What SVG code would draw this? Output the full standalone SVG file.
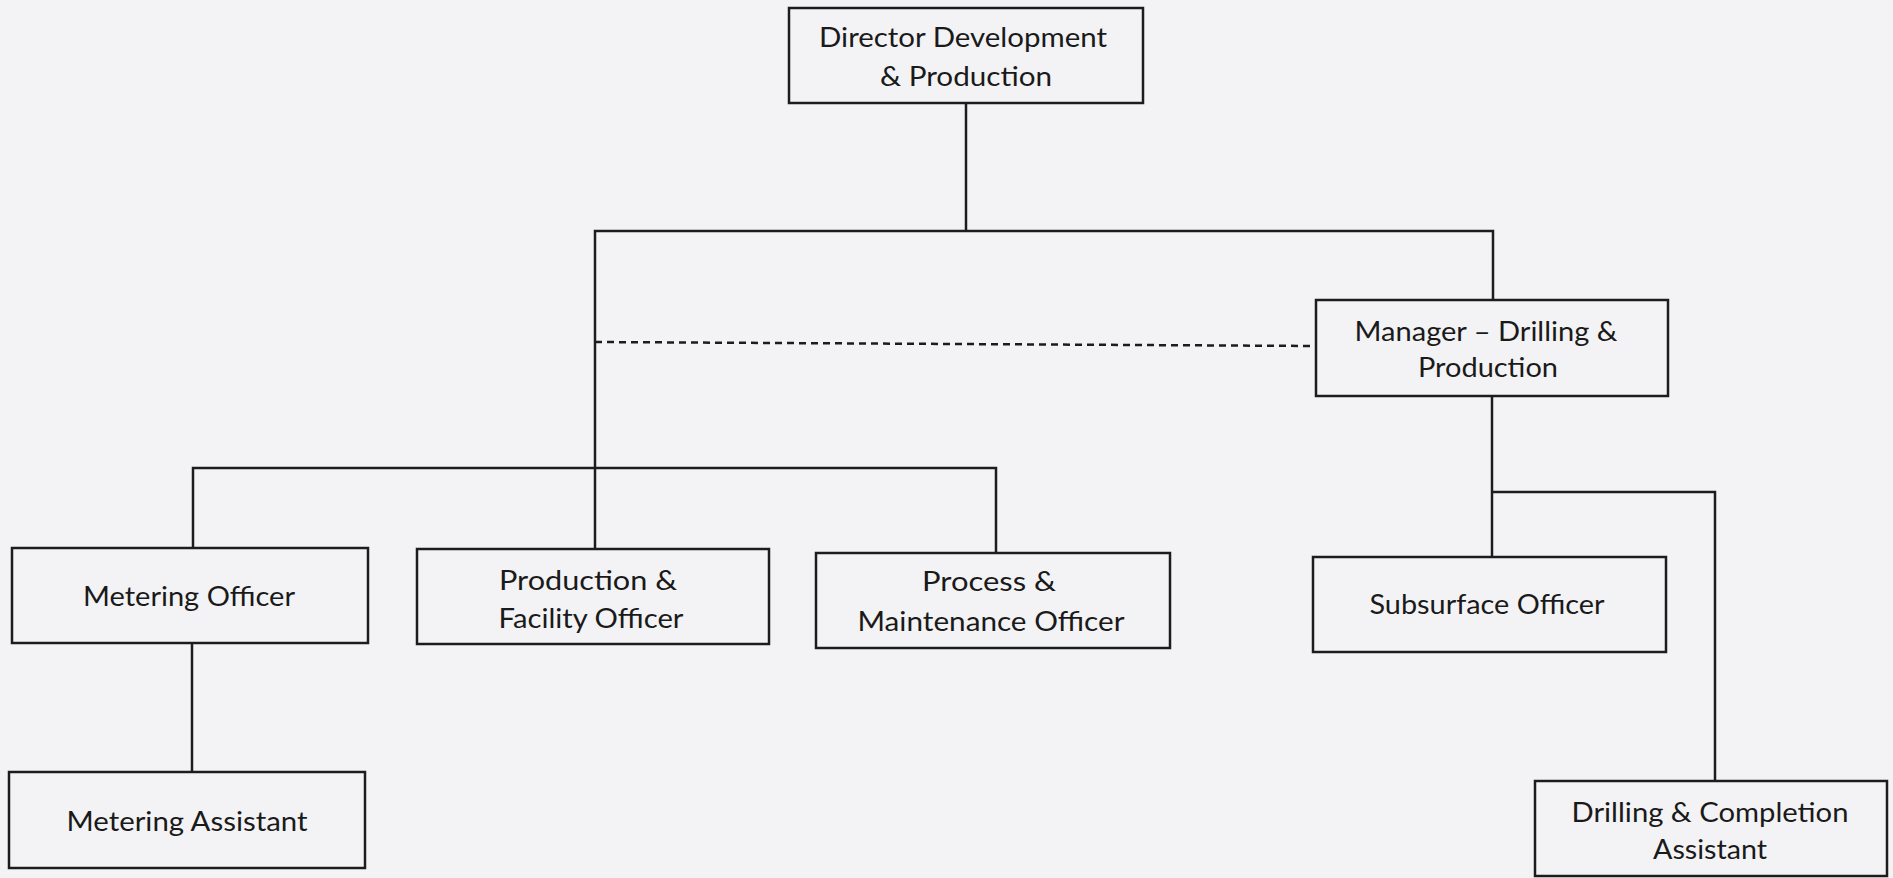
<svg xmlns="http://www.w3.org/2000/svg" width="1893" height="878" viewBox="0 0 1893 878">
<style>
.bg{fill:#f3f3f5}
.box{fill:#f3f3f5;stroke:#1c1c1e;stroke-width:2.5}
.ln{fill:none;stroke:#1c1c1e;stroke-width:2.5}
.dash{fill:none;stroke:#1c1c1e;stroke-width:2.5;stroke-dasharray:7 5}
text{font-family:Lato,"Open Sans","Liberation Sans",sans-serif;font-size:26px;fill:#1a1a1a;text-anchor:middle}
</style>
<rect class="bg" x="0" y="0" width="1893" height="878"/>
<g id="connectors">
<polyline class="ln" points="966,103 966,231"/>
<polyline class="ln" points="595,549 595,231 1493,231 1493,300"/>
<path class="dash" d="M595,342 L1316,346"/>
<polyline class="ln" points="1492,396 1492,557"/>
<polyline class="ln" points="1492,492 1715,492 1715,781"/>
<polyline class="ln" points="193,548 193,468 996,468 996,553"/>
<polyline class="ln" points="192,643 192,772"/>
</g>
<g id="director">
<rect class="box" x="789" y="8" width="354" height="95"/>
<text x="963" y="47" textLength="288" lengthAdjust="spacingAndGlyphs">Director Development</text>
<text x="966" y="86" textLength="172" lengthAdjust="spacingAndGlyphs">&amp; Production</text>
</g>
<g id="manager">
<rect class="box" x="1316" y="300" width="352" height="96"/>
<text x="1486" y="341" textLength="263" lengthAdjust="spacingAndGlyphs">Manager – Drilling &amp;</text>
<text x="1488" y="377" textLength="140" lengthAdjust="spacingAndGlyphs">Production</text>
</g>
<g id="metering-officer">
<rect class="box" x="12" y="548" width="356" height="95"/>
<text x="189" y="606" textLength="212" lengthAdjust="spacingAndGlyphs">Metering Officer</text>
</g>
<g id="production-facility">
<rect class="box" x="417" y="549" width="352" height="95"/>
<text x="588" y="590" textLength="178" lengthAdjust="spacingAndGlyphs">Production  &amp;</text>
<text x="591" y="628" textLength="185" lengthAdjust="spacingAndGlyphs">Facility Officer</text>
</g>
<g id="process-maintenance">
<rect class="box" x="816" y="553" width="354" height="95"/>
<text x="989" y="591" textLength="134" lengthAdjust="spacingAndGlyphs">Process  &amp;</text>
<text x="991" y="631" textLength="267" lengthAdjust="spacingAndGlyphs">Maintenance Officer</text>
</g>
<g id="subsurface">
<rect class="box" x="1313" y="557" width="353" height="95"/>
<text x="1487" y="614" textLength="235" lengthAdjust="spacingAndGlyphs">Subsurface Officer</text>
</g>
<g id="metering-assistant">
<rect class="box" x="9" y="772" width="356" height="96"/>
<text x="187" y="831" textLength="241" lengthAdjust="spacingAndGlyphs">Metering Assistant</text>
</g>
<g id="drilling-completion">
<rect class="box" x="1535" y="781" width="352" height="95"/>
<text x="1710" y="822" textLength="277" lengthAdjust="spacingAndGlyphs">Drilling &amp; Completion</text>
<text x="1710" y="859" textLength="114" lengthAdjust="spacingAndGlyphs">Assistant</text>
</g>
</svg>
